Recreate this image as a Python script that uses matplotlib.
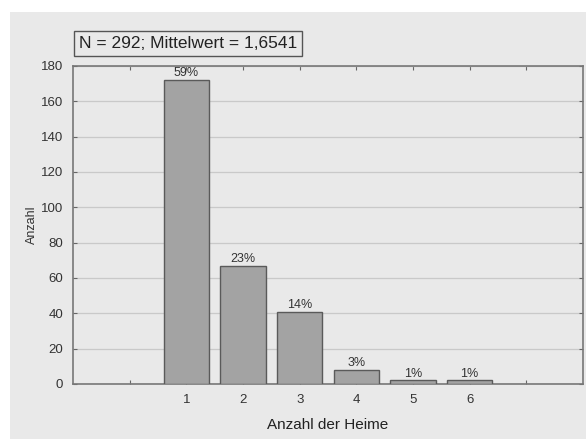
import matplotlib
matplotlib.use("Agg")
from matplotlib import pyplot as plt
from matplotlib.patches import Rectangle
import numpy as np

plt.rcParams['font.family'] = ['Liberation Sans', 'DejaVu Sans']

# data
heime = [1, 2, 3, 4, 5, 6]
anzahl = [172, 67, 41, 8, 2, 2]
prozent = ["59%", "23%", "14%", "3%", "1%", "1%"]
info = "N = 292; Mittelwert = 1,6541"

bg = '#e9e9e9'
fig = plt.figure(figsize=(5.86, 4.41), dpi=100, facecolor='white')
# grey panel behind the chart
fig.patches.append(Rectangle((10/586, 0.005), 1, 1 - 12/441 - 0.005,
                             transform=fig.transFigure, facecolor=bg,
                             edgecolor='none', zorder=-5))

ax = fig.add_axes([73/586, 1 - 384/441, (583 - 73)/586, (384 - 66)/441])
ax.set_facecolor(bg)

ax.bar(heime, anzahl, width=0.8, color='#a3a3a3', edgecolor='#5a5a5a',
       linewidth=1.0, zorder=3)
for xi, yi, p in zip(heime, anzahl, prozent):
    ax.text(xi, yi + 0.5, p, ha='center', va='bottom', fontsize=9,
            color='#333333', zorder=4)

ax.set_xlim(-1, 8)
ax.set_ylim(0, 180)
ax.set_yticks(np.arange(0, 181, 20))
ax.set_xticks(range(0, 8))
ax.set_xticklabels([''] + [str(h) for h in heime] + [''])
ax.yaxis.grid(True, color='#c9c9c9', linewidth=0.9, zorder=0)
ax.set_axisbelow(True)

ax.tick_params(direction='in', length=3, width=0.8, color='#666666',
               labelsize=9.5, labelcolor='#333333', top=True, right=True,
               pad=7)
for s in ax.spines.values():
    s.set_color('#777777')
    s.set_linewidth(1.2)

ax.set_xlabel('Anzahl der Heime', fontsize=11, color='#222222', labelpad=9)
ax.set_ylabel('Anzahl', fontsize=9, color='#333333', labelpad=2)

fig.text(79/586, 1 - 43.5/441, info, fontsize=12.5, color='#222222',
         va='center', ha='left',
         bbox=dict(boxstyle='square,pad=0.3', facecolor=bg,
                   edgecolor='#555555', linewidth=1.0))

plt.savefig('out.png', dpi=100, facecolor='white')
